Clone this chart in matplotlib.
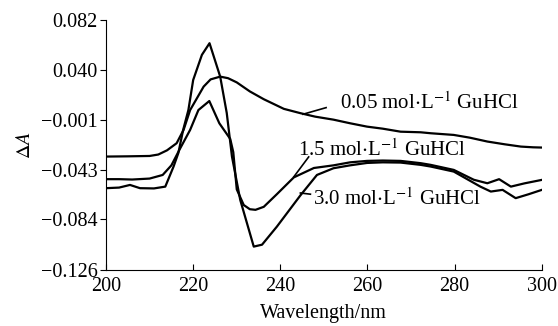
import numpy as np
import matplotlib.pyplot as plt

plt.rcParams['font.family'] = ['Liberation Serif', 'DejaVu Serif']
plt.rcParams['mathtext.fontset'] = 'stix'

# 0.05 mol/L GuHCl
wl_a = [200, 205, 210, 212, 214, 216.2, 217.8, 219.3, 222.4, 224, 226.2, 228, 230, 233,
        236.2, 240.8, 244.6, 248, 252.2, 256, 259.9, 263.5, 267.6, 272.2, 274.5, 279.8,
        283.5, 287.5, 291.5, 295.2, 298, 300]
da_a = [-0.0317, -0.0315, -0.0312, -0.0300, -0.0265, -0.0206, -0.0095, 0.0070, 0.0265, 0.0325,
        0.0348, 0.0335, 0.0300, 0.0225, 0.0160, 0.0080, 0.0044, 0.0015, -0.0010, -0.0040,
        -0.0068, -0.0085, -0.0110, -0.0115, -0.0123, -0.0137, -0.0160, -0.0192, -0.0215,
        -0.0234, -0.0240, -0.0242]

# 1.5 mol/L GuHCl
wl_b = [200, 203, 206, 210, 213, 215, 217, 219.3, 221.2, 223.7, 226, 228.5, 229.2, 230,
        231.6, 233, 234.3, 236.2, 239.2, 243.1, 247.7, 252.2, 256, 259.9, 263.5, 267.6,
        272.2, 274.5, 279.8, 284.4, 287.5, 290.2, 292.9, 296, 300]
da_b = [-0.0505, -0.0505, -0.0508, -0.0500, -0.0470, -0.0390, -0.0250, -0.0095, 0.0070,
        0.0145, -0.0040, -0.0170, -0.0280, -0.0590, -0.0720, -0.0755, -0.0760, -0.0735,
        -0.0630, -0.0490, -0.0412, -0.0390, -0.0365, -0.0353, -0.0350, -0.0353, -0.0372,
        -0.0386, -0.0428, -0.0510, -0.0539, -0.0505, -0.0567, -0.0540, -0.0511]

# 3.0 mol/L GuHCl
wl_c = [200, 203, 205.5, 207.8, 211, 213.6, 215.5, 216.6, 217.7, 218.9, 220, 222, 223.75,
        226.2, 227.7, 228.9, 230.8, 233.9, 235.8, 239.2, 244.6, 248.4, 252.2, 256, 259.9,
        263.5, 267.6, 272.2, 274.5, 279.8, 285.9, 288.3, 291, 294, 297, 300]
da_c = [-0.0580, -0.0575, -0.0553, -0.0580, -0.0582, -0.0567, -0.0400, -0.0287, -0.0095,
        0.0070, 0.0320, 0.0529, 0.0626, 0.0348, 0.0046, -0.0317, -0.0678, -0.1066, -0.1050,
        -0.0900, -0.0640, -0.0470, -0.0414, -0.0390, -0.0370, -0.0365, -0.0367, -0.0386,
        -0.0400, -0.0442, -0.0567, -0.0608, -0.0594, -0.0663, -0.0630, -0.0594]

yticks = [-0.126, -0.084, -0.043, -0.001, 0.040, 0.082]
ytick_labels = ['\u22120.126', '\u22120.084', '\u22120.043', '\u22120.001', '0.040', '0.082']
xticks = [200, 220, 240, 260, 280, 300]

fig = plt.figure(figsize=(5.58, 3.26), dpi=100)
ax = fig.add_axes([0.190, 0.172, 0.781, 0.767])

for wl, da in [(wl_a, da_a), (wl_b, da_b), (wl_c, da_c)]:
    ax.plot(wl, da, color='black', lw=1.6)

ax.set_xlim(200, 300)
ax.set_ylim(-0.126, 0.082)
ax.set_xticks(xticks)
ax.set_yticks(yticks)
ax.set_yticklabels(ytick_labels)
ax.spines['top'].set_visible(False)
ax.spines['right'].set_visible(False)
ax.tick_params(axis='x', direction='in', length=4, labelsize=14.5, pad=5)
ax.tick_params(axis='y', direction='out', length=4, labelsize=14.5, pad=2)

ax.set_xlabel('Wavelength/nm', fontsize=14.5, labelpad=6)
ax.set_ylabel(r'$\Delta A$', fontsize=14.5, labelpad=4)

# curve labels with leader lines
ax.plot([245.2, 250.5], [0.0035, 0.0090], color='black', lw=1.2)
ax.text(253.8, 0.0125, r'0.05 mol$\cdot$L$^{-1}$ GuHCl', fontsize=15, va='center')
ax.plot([243.1, 246.5], [-0.0485, -0.032], color='black', lw=1.2)
ax.text(244.1, -0.0262, r'1.5 mol$\cdot$L$^{-1}$ GuHCl', fontsize=15, va='center')
ax.plot([244.6, 246.9], [-0.062, -0.063], color='black', lw=1.2)
ax.text(247.6, -0.0669, r'3.0 mol$\cdot$L$^{-1}$ GuHCl', fontsize=15, va='center')

fig.savefig('out.png', dpi=100)
